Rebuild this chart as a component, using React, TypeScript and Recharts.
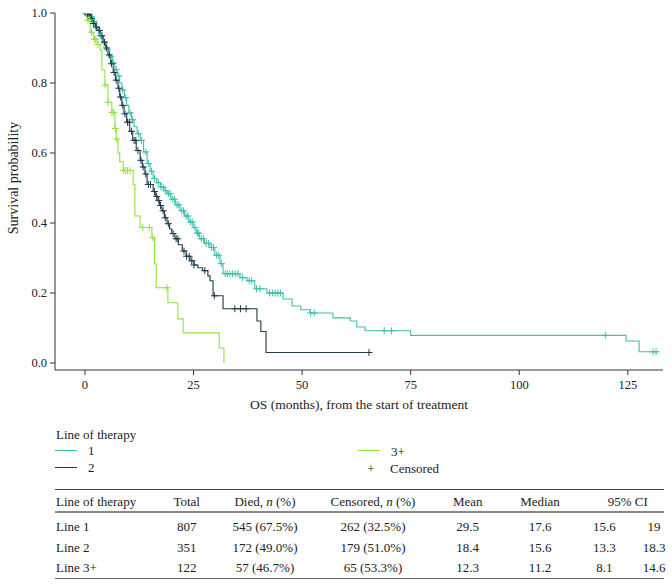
import React from 'react';
import { ComposedChart, Line, Scatter, XAxis, YAxis } from 'recharts';

// KM step points [months, survival]
const line1Steps: [number, number][] = [
  [0, 1.0], [1.0, 0.99], [1.8, 0.975], [2.6, 0.955], [3.2, 0.935], [4.0, 0.915], [4.8, 0.895],
  [5.6, 0.875], [6.3, 0.857], [6.9, 0.838], [7.4, 0.82], [8.0, 0.8], [8.5, 0.78], [9.1, 0.758],
  [9.6, 0.736], [10.1, 0.715], [10.7, 0.695], [11.3, 0.675], [12.0, 0.655], [12.7, 0.636],
  [13.5, 0.603], [14.3, 0.57], [15.0, 0.548], [15.7, 0.527], [16.5, 0.515], [17.4, 0.503],
  [18.2, 0.492], [18.9, 0.484], [19.8, 0.468], [20.8, 0.452], [21.9, 0.435], [22.9, 0.42],
  [23.9, 0.403], [24.9, 0.387], [25.6, 0.371], [26.4, 0.355], [27.5, 0.342], [28.8, 0.33],
  [29.9, 0.308], [31.1, 0.284], [31.8, 0.255], [35.7, 0.244], [37.3, 0.235], [39.1, 0.212],
  [41.9, 0.2], [45.6, 0.183], [47.7, 0.163], [49.7, 0.152], [51.9, 0.143], [57.1, 0.129],
  [61.1, 0.12], [62.6, 0.103], [64.5, 0.092], [75.0, 0.079], [124.6, 0.063], [127.6, 0.032],
  [132.0, 0.032],
];

const line2Steps: [number, number][] = [
  [0, 1.0], [0.5, 0.995], [1.2, 0.985], [1.8, 0.97], [2.4, 0.96], [3.0, 0.95], [3.6, 0.935],
  [4.2, 0.917], [4.8, 0.9], [5.3, 0.88], [5.9, 0.855], [6.5, 0.83], [7.0, 0.808], [7.6, 0.785],
  [8.0, 0.76], [8.5, 0.736], [9.0, 0.712], [9.6, 0.688], [10.3, 0.662], [11.0, 0.636],
  [11.8, 0.607], [12.7, 0.579], [13.2, 0.56], [13.8, 0.54], [14.3, 0.51], [15.7, 0.49],
  [16.2, 0.476], [16.8, 0.464], [17.2, 0.45], [17.7, 0.435], [18.3, 0.415], [18.9, 0.398],
  [19.5, 0.383], [20.0, 0.37], [20.7, 0.355], [21.5, 0.338], [22.4, 0.32], [23.3, 0.305],
  [24.2, 0.292], [25.1, 0.28], [26.0, 0.272], [27.1, 0.264], [28.3, 0.249], [28.8, 0.235],
  [29.5, 0.192], [31.8, 0.155], [39.6, 0.12], [40.5, 0.09], [41.7, 0.03], [65.4, 0.03],
];

const line3Steps: [number, number][] = [
  [0, 1.0], [0.5, 0.98], [1.2, 0.945], [2.0, 0.925], [2.8, 0.91], [3.5, 0.894], [3.9, 0.837],
  [4.6, 0.794], [5.3, 0.745], [6.2, 0.716], [6.9, 0.67], [7.2, 0.64], [7.6, 0.6], [8.0, 0.575],
  [8.8, 0.55], [11.1, 0.51], [11.5, 0.42], [12.7, 0.387], [15.4, 0.358], [16.0, 0.283],
  [16.4, 0.215], [19.1, 0.172], [21.4, 0.126], [22.6, 0.086], [30.9, 0.043], [32.0, 0.0],
];

// censoring times (months)
const line1Censored = [
  0.6, 1.4, 2.2, 3.0, 3.6, 4.4, 5.2, 6.0, 6.6, 7.2, 7.8, 8.7, 9.4, 10.4, 11.0, 12.3, 13.0, 14.0,
  14.6, 15.3, 16.0, 16.9, 17.5, 18.0, 18.6, 19.2, 19.6, 20.2, 20.6, 21.2, 21.6, 22.3, 22.7, 23.3,
  23.7, 24.3, 24.7, 25.3, 25.9, 26.2, 26.8, 27.3, 27.9, 28.5, 29.2, 29.6, 30.3, 30.8, 31.4, 32.3,
  32.8, 33.4, 34.0, 34.6, 35.2, 36.3, 37.8, 38.4, 39.5, 40.3, 42.5, 43.2, 43.8, 44.4, 45.0, 51.9,
  52.8, 68.9, 70.6, 119.9, 130.8, 131.5,
];
const line2Censored = [
  0.2, 0.6, 1.0, 1.5, 2.0, 2.6, 3.3, 3.9, 4.5, 5.0, 5.6, 6.1, 6.7, 7.2, 7.8, 8.2, 8.7, 9.2, 9.8,
  10.2, 10.7, 11.3, 11.7, 12.2, 12.9, 13.4, 14.0, 14.6, 15.1, 16.0, 16.5, 17.0, 17.4, 18.0, 18.5,
  19.2, 20.3, 21.0, 21.4, 22.8, 23.4, 24.0, 24.6, 25.1, 27.6, 29.8, 34.5, 35.8, 37.1, 65.4,
];
const line3Censored = [
  0.3, 0.7, 1.0, 1.5, 2.2, 2.5, 3.0, 4.6, 5.3, 6.2, 6.6, 7.0, 7.3, 8.9, 9.3, 9.8, 10.4, 13.3,
  14.8, 15.6, 18.9,
];

const xTicks = [0, 25, 50, 75, 100, 125];
const yTicks = [0, 0.2, 0.4, 0.6, 0.8, 1.0];

const tableHeader = ['Line of therapy', 'Total', 'Died, n (%)', 'Censored, n (%)', 'Mean', 'Median', '95% CI'];
const tableRows = [
  ['Line 1', '807', '545 (67.5%)', '262 (32.5%)', '29.5', '17.6', '15.6', '19'],
  ['Line 2', '351', '172 (49.0%)', '179 (51.0%)', '18.4', '15.6', '13.3', '18.3'],
  ['Line 3+', '122', '57 (46.7%)', '65 (53.3%)', '12.3', '11.2', '8.1', '14.6'],
];

const C1 = '#3fbfad';
const C2 = '#1f3c48';
const C3 = '#8fe340';
const FONT = "'Liberation Serif', 'DejaVu Serif', serif";

const toPts = (steps: [number, number][]) => steps.map(([t, s]) => ({ t, s }));
const survAt = (steps: [number, number][], t: number) => {
  let s = steps[0][1];
  for (const [tt, ss] of steps) {
    if (tt <= t) s = ss;
  }
  return s;
};
const censorPts = (steps: [number, number][], times: number[]) =>
  times.map((t) => ({ t, s: survAt(steps, t) }));

const plus = (color: string) => (props: any) => {
  const { cx, cy } = props;
  return (
    <g stroke={color} strokeWidth={1}>
      <line x1={cx - 3.5} y1={cy} x2={cx + 3.5} y2={cy} />
      <line x1={cx} y1={cy - 3.5} x2={cx} y2={cy + 3.5} />
    </g>
  );
};

const colX = [186.7, 265, 373, 467.7, 540, 604.3, 654];
const rowY = [525.7, 546.7, 567.3];

function Cell({ x, y, children, left }: { x: number; y: number; children: React.ReactNode; left?: boolean }) {
  return (
    <div
      style={{
        position: 'absolute',
        left: x,
        top: y,
        transform: left ? 'translate(0,-50%)' : 'translate(-50%,-50%)',
        whiteSpace: 'nowrap',
        fontSize: 13,
        lineHeight: 1,
      }}
    >
      {children}
    </div>
  );
}

function headerText(h: string) {
  if (h.includes(', n ')) {
    const [a, b] = h.split(', n ');
    return (
      <>
        {a}, <i>n</i> {b}
      </>
    );
  }
  return h;
}

export default function App() {
  const series = [
    { steps: line1Steps, cens: line1Censored, color: C1, name: '1' },
    { steps: line2Steps, cens: line2Censored, color: C2, name: '2' },
    { steps: line3Steps, cens: line3Censored, color: C3, name: '3+' },
  ];
  const rule = (y: number, h: number, c: string) => (
    <div style={{ position: 'absolute', left: 55, width: 609, top: y, height: h, background: c }} />
  );
  return (
    <div style={{ position: 'relative', width: 672, height: 587, fontFamily: FONT, color: '#222', background: '#fff' }}>
      <style>{'body{margin:0}'}</style>
      <div style={{ position: 'absolute', left: 0, top: 0 }}>
        <ComposedChart width={672} height={400} margin={{ top: 13, right: 9, left: 0, bottom: 0 }}>
          <XAxis
            dataKey="t"
            type="number"
            domain={[-6.9, 133.1]}
            ticks={xTicks}
            allowDataOverflow
            height={30}
            tickSize={5}
            tickMargin={5}
            stroke="#333"
            tick={{ fontSize: 12.5, fill: '#222', fontFamily: FONT }}
          />
          <YAxis
            type="number"
            domain={[-0.02, 1.0]}
            ticks={yTicks}
            allowDataOverflow
            width={55}
            tickSize={5}
            tickMargin={3}
            stroke="#333"
            tickFormatter={(v: number) => v.toFixed(1)}
            tick={{ fontSize: 12.5, fill: '#222', fontFamily: FONT }}
          />
          {series.map((s) => (
            <Line
              key={'l' + s.name}
              data={toPts(s.steps)}
              dataKey="s"
              type="stepAfter"
              stroke={s.color}
              strokeWidth={1.1}
              dot={false}
              isAnimationActive={false}
            />
          ))}
          {series.map((s) => (
            <Scatter
              key={'c' + s.name}
              data={censorPts(s.steps, s.cens)}
              dataKey="s"
              shape={plus(s.color)}
              isAnimationActive={false}
            />
          ))}
        </ComposedChart>
      </div>

      <div
        style={{
          position: 'absolute',
          left: 14,
          top: 178,
          transform: 'translate(-50%,-50%) rotate(-90deg)',
          whiteSpace: 'nowrap',
          fontSize: 14,
          lineHeight: 1,
        }}
      >
        Survival probability
      </div>
      <div
        style={{
          position: 'absolute',
          left: 359,
          top: 405,
          transform: 'translate(-50%,-50%)',
          whiteSpace: 'nowrap',
          fontSize: 13.5,
          lineHeight: 1,
        }}
      >
        OS (months), from the start of treatment
      </div>

      {/* legend */}
      <Cell x={56} y={434} left>Line of therapy</Cell>
      {[
        { x: 55, y: 450, color: C1, label: '1' },
        { x: 55, y: 467, color: C2, label: '2' },
        { x: 358, y: 450.5, color: C3, label: '3+' },
      ].map((l) => (
        <React.Fragment key={l.label}>
          <div style={{ position: 'absolute', left: l.x, top: l.y - 0.5, width: 22, height: 1.2, background: l.color }} />
          <Cell x={l.x + 33} y={l.y} left>{l.label}</Cell>
        </React.Fragment>
      ))}
      <Cell x={371} y={468}>+</Cell>
      <Cell x={390} y={468} left>Censored</Cell>

      {/* summary table */}
      {rule(489, 1.3, '#444')}
      {rule(511, 1.6, '#888')}
      {rule(577.5, 1.6, '#666')}
      <Cell x={56} y={501} left>{tableHeader[0]}</Cell>
      {tableHeader.slice(1, 6).map((h, i) => (
        <Cell key={h} x={colX[i]} y={501}>{headerText(h)}</Cell>
      ))}
      <Cell x={627.7} y={501}>{tableHeader[6]}</Cell>
      {tableRows.map((r, ri) => (
        <React.Fragment key={r[0]}>
          <Cell x={56} y={rowY[ri]} left>{r[0]}</Cell>
          {r.slice(1).map((v, ci) => (
            <Cell key={ci} x={colX[ci]} y={rowY[ri]}>{v}</Cell>
          ))}
        </React.Fragment>
      ))}
    </div>
  );
}
